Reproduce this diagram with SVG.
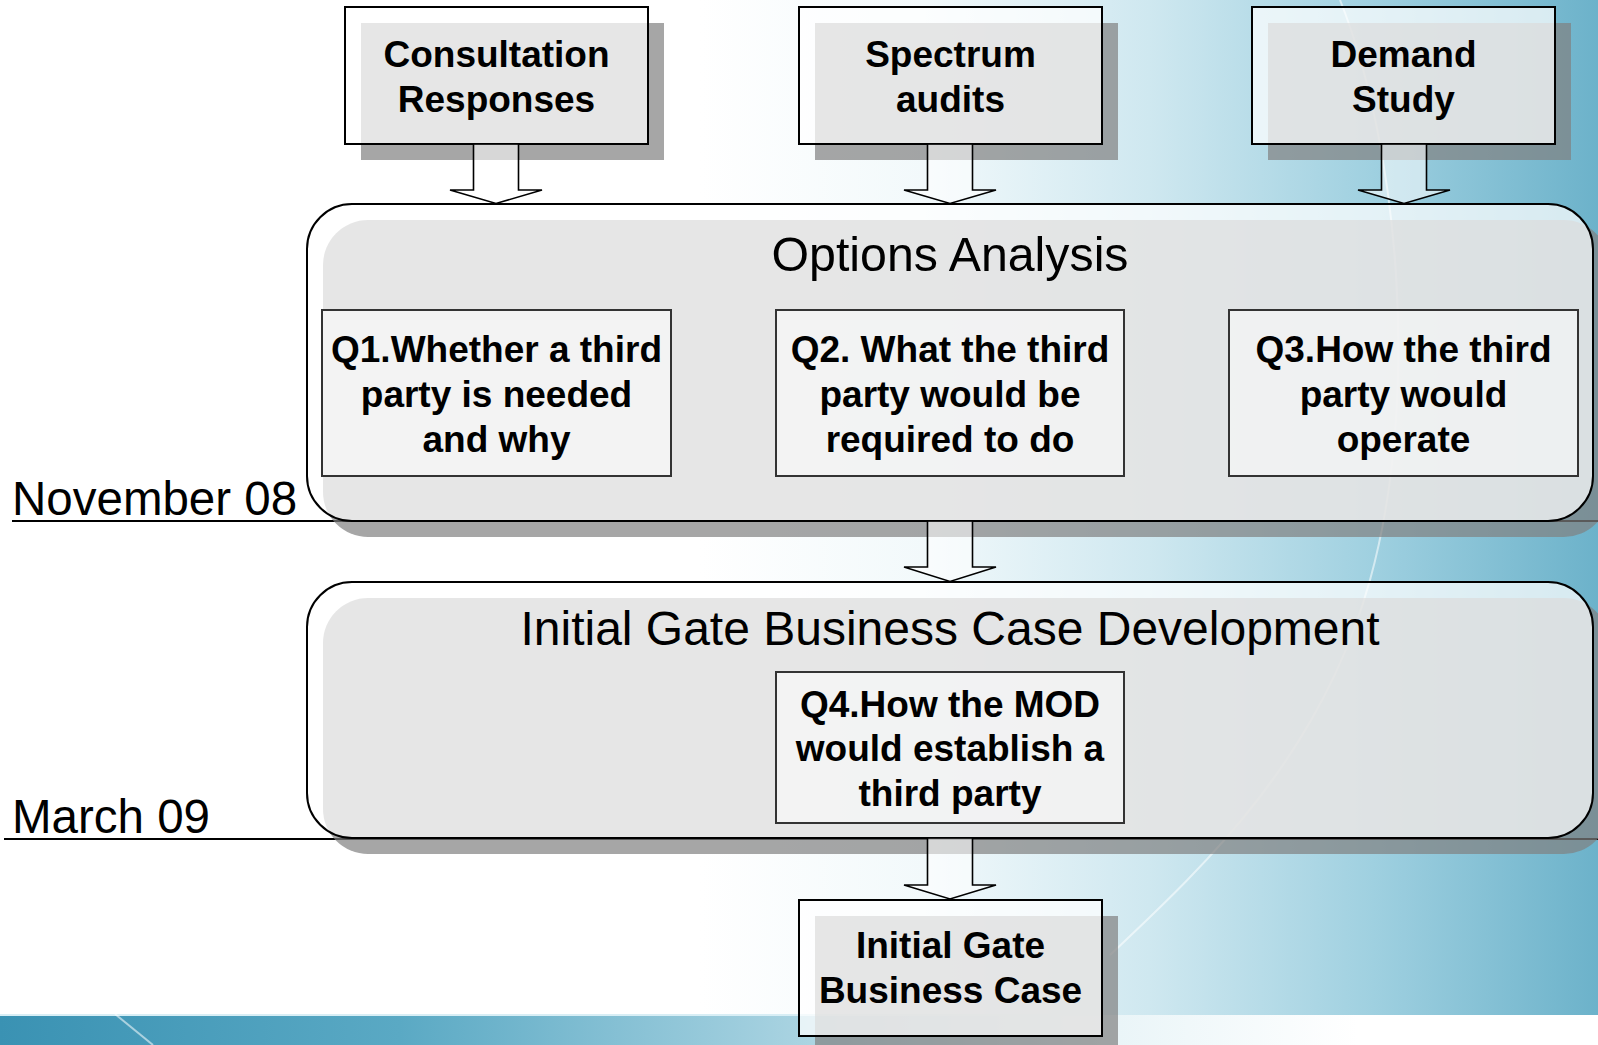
<svg xmlns="http://www.w3.org/2000/svg" width="1598" height="1045" viewBox="0 0 1598 1045">
<defs>
<linearGradient id="bgRight" x1="0" y1="0" x2="1" y2="0">
<stop offset="0" stop-color="#ffffff"/>
<stop offset="0.25" stop-color="#f2f9fb"/>
<stop offset="0.5" stop-color="#cfe8f0"/>
<stop offset="0.75" stop-color="#9fd0e0"/>
<stop offset="1" stop-color="#6cb2ca"/>
</linearGradient>
<linearGradient id="bgBottom" x1="0" y1="0" x2="1" y2="0">
<stop offset="0" stop-color="#3a92b3"/>
<stop offset="0.25" stop-color="#5aa9c4"/>
<stop offset="0.5" stop-color="#a9d3e1"/>
<stop offset="0.7" stop-color="#eaf5f8"/>
<stop offset="0.85" stop-color="#ffffff"/>
</linearGradient>
<style>
.shadow{fill:#808080;fill-opacity:0.7}
.box{fill:#ffffff;fill-opacity:0.72;stroke:#000;stroke-width:2}
.qbox{fill:#ffffff;fill-opacity:0.5;stroke:#333;stroke-width:2}
.arrow{fill:#ffffff;fill-opacity:0.55;stroke:#000;stroke-width:1.6;stroke-linejoin:miter}
.bold{font-family:"Liberation Sans",Arial,sans-serif;font-weight:bold;font-size:37px;fill:#000;text-anchor:middle}
.title{font-family:"Liberation Sans",Arial,sans-serif;font-size:48px;fill:#000;text-anchor:middle}
.date{font-family:"Liberation Sans",Arial,sans-serif;font-size:47.5px;fill:#000}
.dline{stroke:#000;stroke-width:2}
.streak{fill:none;stroke:#ffffff;stroke-opacity:0.55;stroke-width:2}
</style>
</defs>
<g id="background">
<rect x="0" y="0" width="1598" height="1045" fill="#ffffff"/>
<rect x="700" y="0" width="898" height="1015" fill="url(#bgRight)"/>
<rect x="0" y="1015" width="1598" height="30" fill="url(#bgBottom)"/>
<line x1="0" y1="1015" x2="1100" y2="1015" stroke="#d8eef5" stroke-width="2"/>
<path class="streak" d="M1340,0 C1400,150 1420,400 1370,580 S1200,870 1110,955"/>
<path class="streak" d="M115,1014 L153,1045"/>
</g>
<g id="dates">
<line class="dline" x1="12" y1="521" x2="1598" y2="521"/>
<text class="date" x="12" y="515">November 08</text>
<line class="dline" x1="4" y1="839" x2="1598" y2="839"/>
<text class="date" x="12" y="833">March 09</text>
</g>
<g id="consultation">
<rect class="shadow" x="361" y="23" width="303" height="137"/>
<rect class="box" x="345" y="7" width="303" height="137"/>
<text class="bold" x="496.5" y="67">Consultation</text>
<text class="bold" x="496.5" y="112">Responses</text>
</g>
<g id="spectrum">
<rect class="shadow" x="815" y="23" width="303" height="137"/>
<rect class="box" x="799" y="7" width="303" height="137"/>
<text class="bold" x="950.5" y="67">Spectrum</text>
<text class="bold" x="950.5" y="112">audits</text>
</g>
<g id="demand">
<rect class="shadow" x="1268" y="23" width="303" height="137"/>
<rect class="box" x="1252" y="7" width="303" height="137"/>
<text class="bold" x="1403.5" y="67">Demand</text>
<text class="bold" x="1403.5" y="112">Study</text>
</g>
<g id="options-analysis">
<rect class="shadow" x="323" y="220" width="1286" height="317" rx="45" ry="45"/>
<rect class="box" x="307" y="204" width="1286" height="317" rx="45" ry="45"/>
<text class="title" x="950" y="271" font-size="52" textLength="357" lengthAdjust="spacingAndGlyphs">Options Analysis</text>
</g>
<g id="q1">
<rect class="qbox" x="322" y="310" width="349" height="166"/>
<text class="bold" x="496.5" y="362">Q1.Whether a third</text>
<text class="bold" x="496.5" y="407">party is needed</text>
<text class="bold" x="496.5" y="452">and why</text>
</g>
<g id="q2">
<rect class="qbox" x="776" y="310" width="348" height="166"/>
<text class="bold" x="950" y="362">Q2. What the third</text>
<text class="bold" x="950" y="407">party would be</text>
<text class="bold" x="950" y="452">required to do</text>
</g>
<g id="q3">
<rect class="qbox" x="1229" y="310" width="349" height="166"/>
<text class="bold" x="1403.5" y="362">Q3.How the third</text>
<text class="bold" x="1403.5" y="407">party would</text>
<text class="bold" x="1403.5" y="452">operate</text>
</g>
<g id="initial-gate-development">
<rect class="shadow" x="323" y="598" width="1286" height="256" rx="45" ry="45"/>
<rect class="box" x="307" y="582" width="1286" height="256" rx="45" ry="45"/>
<text class="title" x="950" y="645">Initial Gate Business Case Development</text>
</g>
<g id="q4">
<rect class="qbox" x="776" y="672" width="348" height="151"/>
<text class="bold" x="950" y="717">Q4.How the MOD</text>
<text class="bold" x="950" y="761">would establish a</text>
<text class="bold" x="950" y="806">third party</text>
</g>
<g id="initial-gate-business-case">
<rect class="shadow" x="815" y="916" width="303" height="136"/>
<rect class="box" x="799" y="900" width="303" height="136"/>
<text class="bold" x="950.5" y="958">Initial Gate</text>
<text class="bold" x="950.5" y="1003">Business Case</text>
</g>
<g id="connectors">
<polygon class="arrow" points="473.5,144 518.5,144 518.5,190 542,190 496,203.5 450,190 473.5,190"/>
<polygon class="arrow" points="927.5,144 972.5,144 972.5,190 996,190 950,203.5 904,190 927.5,190"/>
<polygon class="arrow" points="1381.5,144 1426.5,144 1426.5,190 1450,190 1404,203.5 1358,190 1381.5,190"/>
<polygon class="arrow" points="927.5,521 972.5,521 972.5,567 996,567 950,581.5 904,567 927.5,567"/>
<polygon class="arrow" points="927.5,838 972.5,838 972.5,885 996,885 950,899 904,885 927.5,885"/>
</g>
</svg>
